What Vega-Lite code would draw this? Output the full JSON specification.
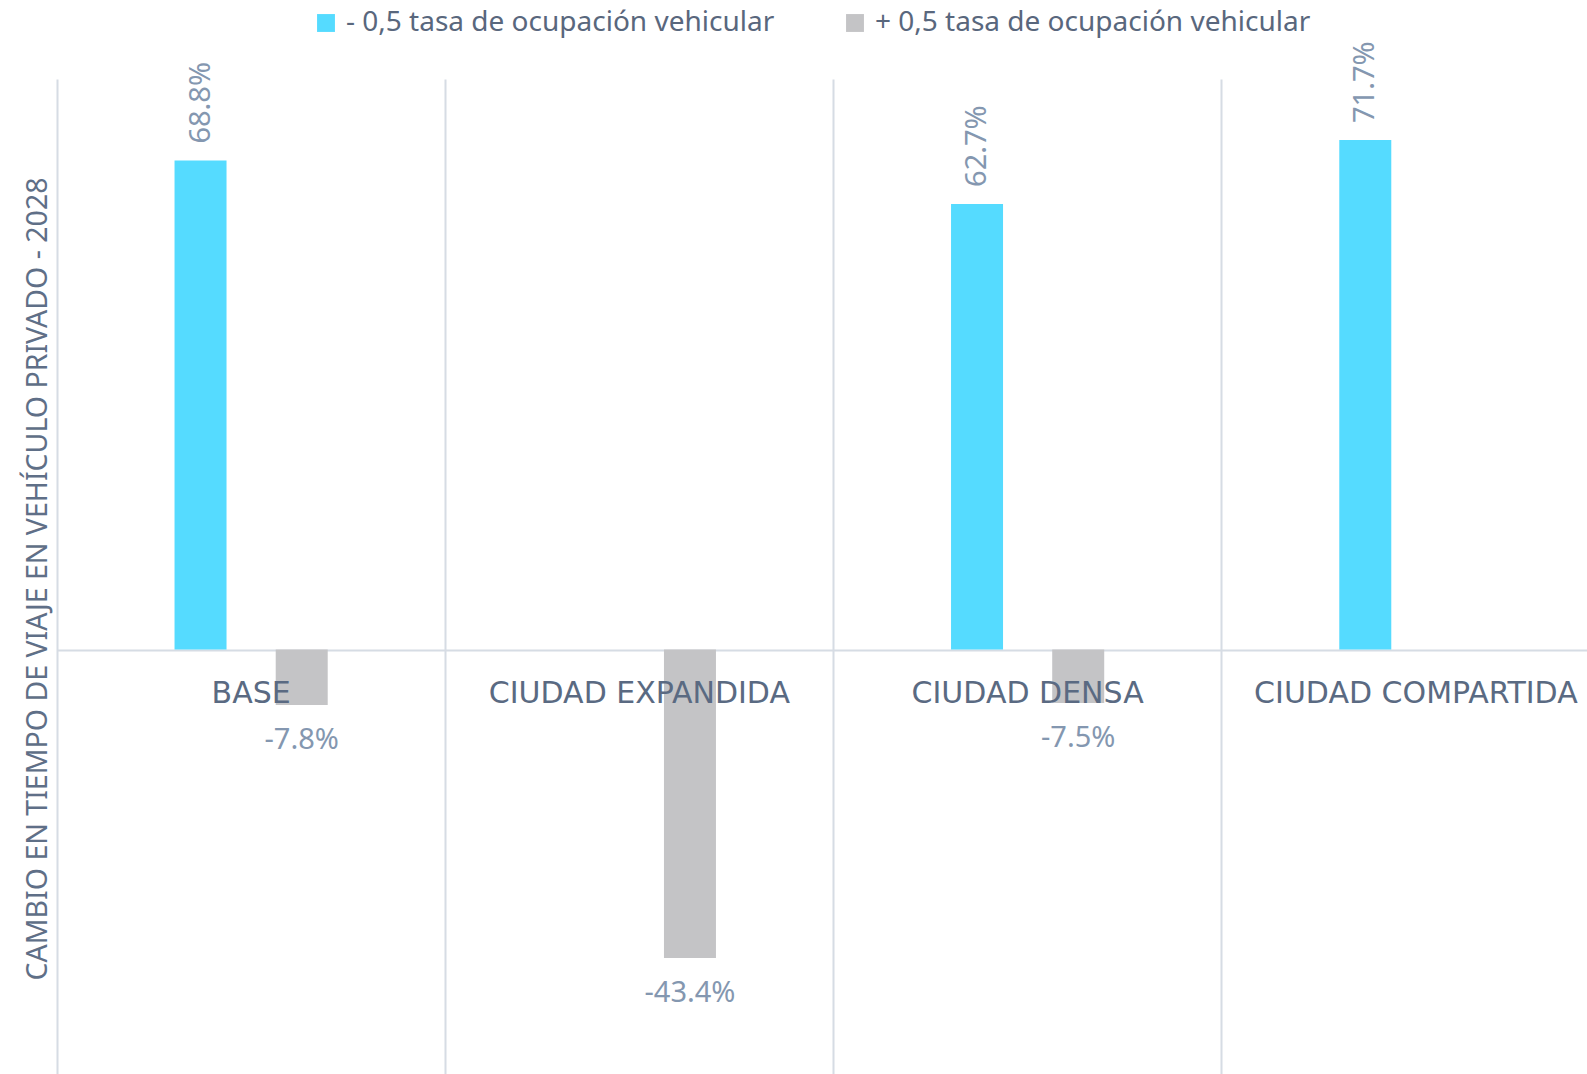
{
  "$schema": "https://vega.github.io/schema/vega-lite/v6.json",
  "autosize": {"type": "none"},
  "padding": {"left": 57, "top": 81, "right": 0, "bottom": 0},
  "width": 1530,
  "height": 993,
  "background": "white",
  "config": {
    "view": {"stroke": null},
    "font": "Noto Sans",
    "locale": {
      "number": {"decimal": ".", "thousands": ",", "grouping": [3], "currency": ["$", ""], "minus": "-"}
    }
  },
  "datasets": {
    "barras": [
      {"escenario": "BASE", "serie": "- 0,5 tasa de ocupación vehicular", "cambio": 0.688},
      {"escenario": "BASE", "serie": "+ 0,5 tasa de ocupación vehicular", "cambio": -0.078},
      {"escenario": "CIUDAD EXPANDIDA", "serie": "+ 0,5 tasa de ocupación vehicular", "cambio": -0.434},
      {"escenario": "CIUDAD DENSA", "serie": "- 0,5 tasa de ocupación vehicular", "cambio": 0.627},
      {"escenario": "CIUDAD DENSA", "serie": "+ 0,5 tasa de ocupación vehicular", "cambio": -0.075},
      {"escenario": "CIUDAD COMPARTIDA", "serie": "- 0,5 tasa de ocupación vehicular", "cambio": 0.717}
    ],
    "escenarios": [
      {"escenario": "BASE", "base": 0},
      {"escenario": "CIUDAD EXPANDIDA", "base": 0},
      {"escenario": "CIUDAD DENSA", "base": 0},
      {"escenario": "CIUDAD COMPARTIDA", "base": 0}
    ]
  },
  "layer": [
    {
      "data": {"name": "barras"},
      "mark": {"type": "bar", "width": 52},
      "encoding": {
        "x": {
          "field": "escenario",
          "type": "nominal",
          "sort": ["BASE", "CIUDAD EXPANDIDA", "CIUDAD DENSA", "CIUDAD COMPARTIDA"],
          "scale": {"domain": ["BASE", "CIUDAD EXPANDIDA", "CIUDAD DENSA", "CIUDAD COMPARTIDA"], "range": [0, 1553], "paddingInner": 0, "paddingOuter": 0},
          "axis": {
            "title": null,
            "labels": false,
            "ticks": false,
            "domain": false,
            "grid": true,
            "bandPosition": 0,
            "gridColor": "#d6dce4",
            "gridWidth": 2
          }
        },
        "xOffset": {
          "field": "serie",
          "type": "nominal",
          "scale": {
            "domain": ["- 0,5 tasa de ocupación vehicular", "+ 0,5 tasa de ocupación vehicular"],
            "paddingInner": 0,
            "paddingOuter": 0.9185
          }
        },
        "y": {
          "field": "cambio",
          "type": "quantitative",
          "scale": {"domain": [-0.6, 0.8], "range": [995, 0], "nice": false, "zero": false},
          "axis": {
            "title": "CAMBIO EN  TIEMPO DE VIAJE EN VEHÍCULO PRIVADO - 2028",
            "titleFont": "Noto Sans",
            "titleFontSize": 28.5,
            "titleFontWeight": "normal",
            "titleColor": "#5f6f87",
            "titlePadding": 5,
            "labels": false,
            "ticks": false,
            "domain": false,
            "grid": true,
            "values": [0],
            "gridColor": "#d6dce4",
            "gridWidth": 2
          }
        },
        "color": {
          "field": "serie",
          "type": "nominal",
          "scale": {
            "domain": ["- 0,5 tasa de ocupación vehicular", "+ 0,5 tasa de ocupación vehicular"],
            "range": ["#55DBFF", "#C4C4C6"]
          },
          "legend": {
            "title": null,
            "orient": "none",
            "direction": "horizontal",
            "legendX": 255,
            "legendY": -72,
            "symbolType": "square",
            "symbolSize": 320,
            "symbolStrokeWidth": 0,
            "symbolOpacity": 1,
            "labelFont": "Noto Sans",
            "labelFontSize": 28,
            "labelColor": "#59677d",
            "labelOffset": 6,
            "labelLimit": 700,
            "columnPadding": 66
          }
        }
      }
    },
    {
      "data": {"name": "barras"},
      "transform": [{"filter": "datum.cambio > 0"}],
      "mark": {
        "type": "text",
        "angle": 270,
        "align": "left",
        "baseline": "middle",
        "dx": 17,
        "fontSize": 29,
        "font": "Noto Sans",
        "color": "#8497B0"
      },
      "encoding": {
        "x": {"field": "escenario", "type": "nominal"},
        "xOffset": {"field": "serie", "type": "nominal"},
        "y": {"field": "cambio", "type": "quantitative"},
        "text": {"field": "cambio", "type": "quantitative", "format": ".1%"}
      }
    },
    {
      "data": {"name": "barras"},
      "transform": [{"filter": "datum.cambio < 0"}],
      "mark": {
        "type": "text",
        "align": "center",
        "baseline": "middle",
        "dy": 35,
        "fontSize": 29,
        "font": "Noto Sans",
        "color": "#8497B0"
      },
      "encoding": {
        "x": {"field": "escenario", "type": "nominal"},
        "xOffset": {"field": "serie", "type": "nominal"},
        "y": {"field": "cambio", "type": "quantitative"},
        "text": {"field": "cambio", "type": "quantitative", "format": ".1%"}
      }
    },
    {
      "data": {"name": "escenarios"},
      "mark": {
        "type": "text",
        "align": "center",
        "baseline": "middle",
        "dy": 44,
        "fontSize": 30,
        "font": "DejaVu Sans",
        "color": "#5A6A82"
      },
      "encoding": {
        "x": {"field": "escenario", "type": "nominal"},
        "y": {"field": "base", "type": "quantitative"},
        "text": {"field": "escenario", "type": "nominal"}
      }
    }
  ]
}
